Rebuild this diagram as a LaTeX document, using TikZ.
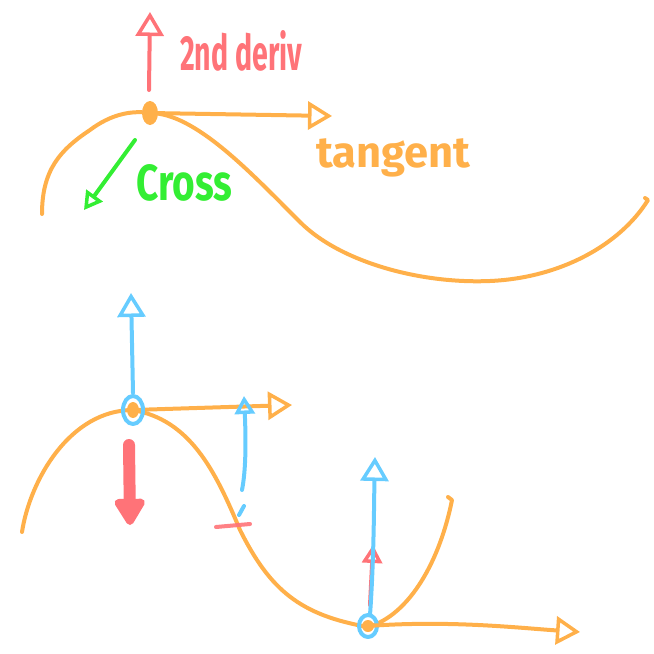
\documentclass[tikz,border=0pt]{standalone}
\usepackage{fontspec}
\setmainfont{Fira Sans}
\usetikzlibrary{arrows.meta}
\definecolor{sko}{HTML}{FFB04A}
\definecolor{skr}{HTML}{FF7378}
\definecolor{skg}{HTML}{33EE33}
\definecolor{skb}{HTML}{66CCFF}
\tikzset{
  pen/.style={line width=4pt, line cap=round, line join=round},
  openhead/.style={-{Triangle[open,length=24pt,width=28pt,line width=3.5pt]}},
  smallhead/.style={-{Triangle[open,length=18pt,width=20pt,line width=3.5pt]}},
  lbl/.style={font=\bfseries, inner sep=0pt, anchor=south west},
}
\begin{document}
\begin{tikzpicture}[x=1pt,y=-1pt]
\useasboundingbox (0,0) rectangle (654,654);
% ---------- top ----------
\coordinate (tp) at (150,113);
\draw[pen, sko] (42,214) .. controls (42,170) and (60,150) .. (90,130)
   .. controls (110,115) and (130,110) .. (tp)
   .. controls (195,113) and (250,172) .. (300,222)
   .. controls (340,262) and (420,284) .. (490,281)
   .. controls (560,278) and (620,245) .. (648,200)
   -- (645,198);
\fill[sko] (tp) ellipse (8 and 12);
\coordinate (tt) at (332,116);
\draw[pen, sko, openhead] (tp) -- (tt);
\coordinate (rb) at (149,90);
\coordinate (rt) at (150,12);
\draw[pen, skr, openhead] (rb) -- (rt);
\node[lbl, skr] (d2) at (180,72) {\resizebox{122pt}{40pt}{2nd deriv}};
\coordinate (gs) at (135,140);
\coordinate (ge) at (84,210);
\draw[pen, skg, smallhead] (gs) -- (ge);
\node[lbl, skg] (cr) at (136,202) {\resizebox{96pt}{36pt}{Cross}};
\node[lbl, sko] (tg) at (316,177) {\resizebox{154pt}{!}{tangent}};
% ---------- bottom ----------
\coordinate (bp) at (133,410);
\coordinate (bm) at (368,626);
\draw[pen, sko] (22,532) .. controls (30,480) and (70,410) .. (bp)
   .. controls (190,420) and (215,470) .. (240,530)
   .. controls (270,590) and (300,615) .. (368,627)
   .. controls (410,615) and (440,560) .. (452,500)
   -- (448,497);
\fill[sko] (bp) ellipse (6 and 8);
\fill[sko] (bm) ellipse (6 and 6);
\coordinate (bt) at (292,405);
\draw[pen, sko, openhead] (bp) -- (bt);
\draw[pen, skb] (bp) ellipse (10 and 14);
\coordinate (bu) at (131,293);
\draw[pen, skb, openhead] (133,393) -- (bu);
\coordinate (rd) at (130,525);
\draw[line width=12pt, line cap=round, skr, -{Triangle[length=30pt,width=34pt,round]}] (129,445) -- (rd);
\coordinate (sb) at (244,396);
\draw[pen, skb, smallhead] (242,490) .. controls (246,470) and (246,440) .. (sb);
\draw[pen, skb] (239,515) -- (244,506);
\draw[pen, skr, opacity=0.9] (216,527) -- (250,524);
\coordinate (mu) at (375,457);
\draw[pen, skr, smallhead] (370,605) -- (373,545);
\draw[pen, skb, openhead] (370,615) .. controls (374,560) and (374,500) .. (mu);
\draw[pen, skb] (bm) ellipse (9 and 11);
\coordinate (mt) at (580,632);
\draw[pen, sko, openhead] (bm) .. controls (450,620) and (520,628) .. (mt);
\end{tikzpicture}
\end{document}
